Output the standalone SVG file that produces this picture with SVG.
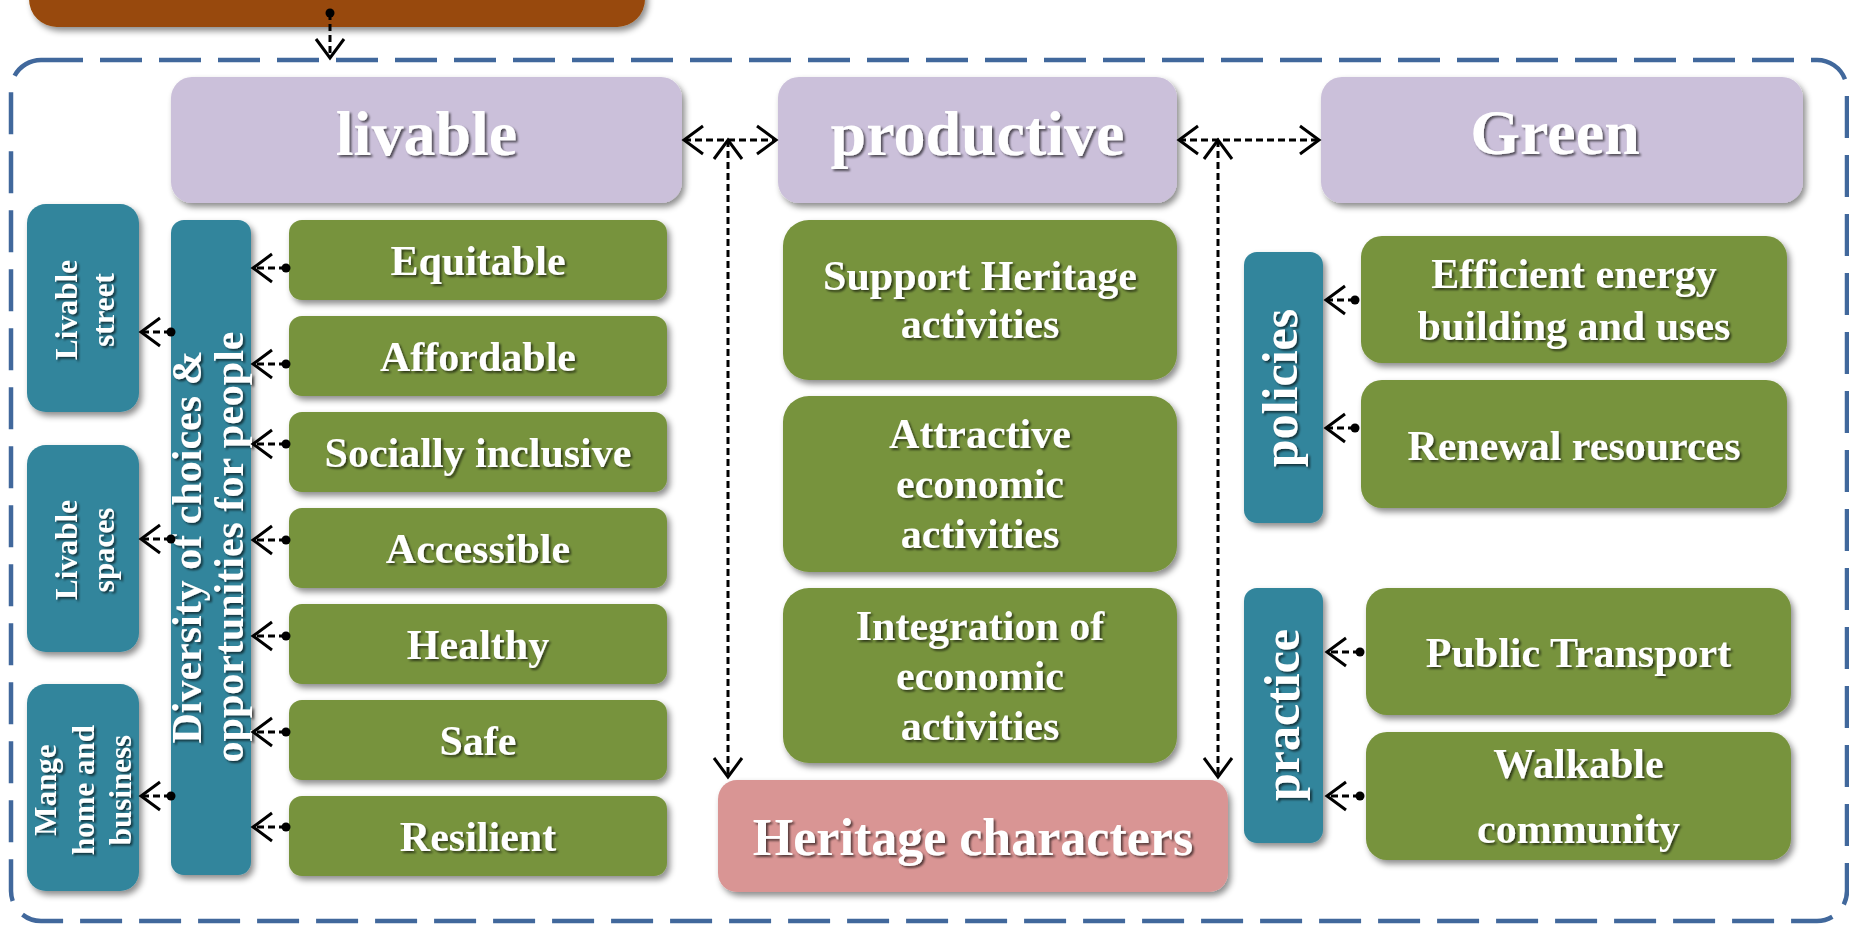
<svg xmlns="http://www.w3.org/2000/svg" width="1849" height="925" viewBox="0 0 1849 925">
<defs>
<style>
.t{font-family:"Liberation Serif","Times New Roman",serif;font-weight:bold;fill:#fff;text-anchor:middle}
.f64{font-size:64px}
.f42{font-size:42px}
.f52{font-size:52px}
.f50{font-size:50px}
.f31{font-size:31px}
.lav{fill:#CBC0DA}
.grn{fill:#77933C}
.teal{fill:#31859C}
.pink{fill:#D99594}
.brown{fill:#984807}
.conn{fill:none;stroke:#000;stroke-width:3;stroke-dasharray:7 4}
</style>
<filter id="bs" x="-10%" y="-10%" width="125%" height="130%">
<feDropShadow dx="3" dy="4" stdDeviation="3" flood-color="#000" flood-opacity="0.45"/>
</filter>
<filter id="ts" x="-10%" y="-20%" width="125%" height="150%">
<feDropShadow dx="2" dy="2" stdDeviation="1" flood-color="#000" flood-opacity="0.6"/>
</filter>
<marker id="ah" markerUnits="userSpaceOnUse" viewBox="-25 -20 30 40" markerWidth="30" markerHeight="40" refX="0" refY="0" orient="auto-start-reverse" overflow="visible">
<path d="M-19,-14 L0,0 L-19,14" fill="none" stroke="#000" stroke-width="3" stroke-dasharray="none"/>
</marker>
<marker id="dot" markerUnits="userSpaceOnUse" viewBox="-6 -6 12 12" markerWidth="12" markerHeight="12" refX="0" refY="0" overflow="visible">
<circle r="4.5" fill="#000"/>
</marker>
</defs>

<rect x="0" y="0" width="1849" height="925" fill="#fff"/>

<g id="frame">
<rect x="11" y="60" width="1836" height="861" rx="30" fill="none" stroke="#41689C" stroke-width="4.5" stroke-dasharray="42 17"/>
</g>

<g id="node-top">
<rect class="brown" x="29" y="-140" width="616" height="167" rx="28" filter="url(#bs)"/>
</g>

<g id="node-livable">
<rect class="lav" x="171" y="77" width="511" height="126" rx="21" filter="url(#bs)"/>
<text class="t f64" x="426.5" y="155" filter="url(#ts)">livable</text>
</g>
<g id="node-productive">
<rect class="lav" x="778" y="77" width="399" height="126" rx="21" filter="url(#bs)"/>
<text class="t f64" x="977.5" y="155" filter="url(#ts)">productive</text>
</g>
<g id="node-green">
<rect class="lav" x="1321" y="77" width="482" height="126" rx="21" filter="url(#bs)"/>
<text class="t f64" x="1555" y="154" filter="url(#ts)">Green</text>
</g>

<g id="node-livable-street">
<rect class="teal" x="27" y="204" width="112" height="208" rx="19" filter="url(#bs)"/>
<g filter="url(#ts)"><text class="t f31" transform="translate(0,310) rotate(-90)"><tspan x="0" y="77">Livable</tspan><tspan x="0" y="114">street</tspan></text></g>
</g>
<g id="node-livable-spaces">
<rect class="teal" x="27" y="445" width="112" height="207" rx="19" filter="url(#bs)"/>
<g filter="url(#ts)"><text class="t f31" transform="translate(0,550) rotate(-90)"><tspan x="0" y="77">Livable</tspan><tspan x="0" y="114">spaces</tspan></text></g>
</g>
<g id="node-mange">
<rect class="teal" x="27" y="684" width="112" height="207" rx="19" filter="url(#bs)"/>
<g filter="url(#ts)"><text class="t f31" transform="translate(0,790) rotate(-90)"><tspan x="0" y="56">Mange</tspan><tspan x="0" y="94">home and</tspan><tspan x="0" y="131">business</tspan></text></g>
</g>

<g id="node-diversity">
<rect class="teal" x="171" y="220" width="80" height="655" rx="13" filter="url(#bs)"/>
<g filter="url(#ts)"><text class="t f42" transform="translate(0,547) rotate(-90)"><tspan x="0" y="201">Diversity of choices &amp;</tspan><tspan x="0" y="243">opportunities for people</tspan></text></g>
</g>

<g id="node-equitable">
<rect class="grn" x="289" y="220" width="378" height="80" rx="13" filter="url(#bs)"/>
<text class="t f42" x="478" y="275" filter="url(#ts)">Equitable</text>
</g>
<g id="node-affordable">
<rect class="grn" x="289" y="316" width="378" height="80" rx="13" filter="url(#bs)"/>
<text class="t f42" x="478" y="371" filter="url(#ts)">Affordable</text>
</g>
<g id="node-socially">
<rect class="grn" x="289" y="412" width="378" height="80" rx="13" filter="url(#bs)"/>
<text class="t f42" x="478" y="467" filter="url(#ts)">Socially inclusive</text>
</g>
<g id="node-accessible">
<rect class="grn" x="289" y="508" width="378" height="80" rx="13" filter="url(#bs)"/>
<text class="t f42" x="478" y="563" filter="url(#ts)">Accessible</text>
</g>
<g id="node-healthy">
<rect class="grn" x="289" y="604" width="378" height="80" rx="13" filter="url(#bs)"/>
<text class="t f42" x="478" y="659" filter="url(#ts)">Healthy</text>
</g>
<g id="node-safe">
<rect class="grn" x="289" y="700" width="378" height="80" rx="13" filter="url(#bs)"/>
<text class="t f42" x="478" y="755" filter="url(#ts)">Safe</text>
</g>
<g id="node-resilient">
<rect class="grn" x="289" y="796" width="378" height="80" rx="13" filter="url(#bs)"/>
<text class="t f42" x="478" y="851" filter="url(#ts)">Resilient</text>
</g>

<g id="node-support">
<rect class="grn" x="783" y="220" width="394" height="160" rx="26" filter="url(#bs)"/>
<text class="t f42" filter="url(#ts)"><tspan x="980" y="290">Support Heritage</tspan><tspan x="980" y="338">activities</tspan></text>
</g>
<g id="node-attractive">
<rect class="grn" x="783" y="396" width="394" height="176" rx="26" filter="url(#bs)"/>
<text class="t f42" filter="url(#ts)"><tspan x="980" y="448">Attractive</tspan><tspan x="980" y="498">economic</tspan><tspan x="980" y="548">activities</tspan></text>
</g>
<g id="node-integration">
<rect class="grn" x="783" y="588" width="394" height="175" rx="26" filter="url(#bs)"/>
<text class="t f42" filter="url(#ts)"><tspan x="980" y="640">Integration of</tspan><tspan x="980" y="690">economic</tspan><tspan x="980" y="740">activities</tspan></text>
</g>

<g id="node-heritage">
<rect class="pink" x="718" y="780" width="510" height="112" rx="19" filter="url(#bs)"/>
<text class="t f52" x="973" y="855" filter="url(#ts)">Heritage characters</text>
</g>

<g id="node-policies">
<rect class="teal" x="1244" y="252" width="79" height="271" rx="13" filter="url(#bs)"/>
<g filter="url(#ts)"><text class="t f50" transform="translate(0,388) rotate(-90)" x="0" y="1297">policies</text></g>
</g>
<g id="node-practice">
<rect class="teal" x="1244" y="588" width="79" height="255" rx="13" filter="url(#bs)"/>
<g filter="url(#ts)"><text class="t f50" transform="translate(0,715) rotate(-90)" x="0" y="1299">practice</text></g>
</g>

<g id="node-efficient">
<rect class="grn" x="1361" y="236" width="426" height="127" rx="21" filter="url(#bs)"/>
<text class="t f42" filter="url(#ts)"><tspan x="1574" y="288">Efficient energy</tspan><tspan x="1574" y="340">building and uses</tspan></text>
</g>
<g id="node-renewal">
<rect class="grn" x="1361" y="380" width="426" height="128" rx="21" filter="url(#bs)"/>
<text class="t f42" x="1574" y="460" filter="url(#ts)">Renewal resources</text>
</g>
<g id="node-public">
<rect class="grn" x="1366" y="588" width="425" height="127" rx="21" filter="url(#bs)"/>
<text class="t f42" x="1578.5" y="667" filter="url(#ts)">Public Transport</text>
</g>
<g id="node-walkable">
<rect class="grn" x="1366" y="732" width="425" height="128" rx="21" filter="url(#bs)"/>
<text class="t f42" filter="url(#ts)"><tspan x="1578.5" y="778">Walkable</tspan><tspan x="1578.5" y="843">community</tspan></text>
</g>

<g id="connectors">
<path class="conn" d="M330,13 V58" marker-start="url(#dot)" marker-end="url(#ah)"/>
<path class="conn" d="M684,140 H776" marker-start="url(#ah)" marker-end="url(#ah)"/>
<path class="conn" d="M728,140 V777" marker-start="url(#ah)" marker-end="url(#ah)"/>
<path class="conn" d="M1179,140 H1319" marker-start="url(#ah)" marker-end="url(#ah)"/>
<path class="conn" d="M1218,140 V777" marker-start="url(#ah)" marker-end="url(#ah)"/>
<path class="conn" d="M286,268 H253" marker-start="url(#dot)" marker-end="url(#ah)"/>
<path class="conn" d="M286,364 H253" marker-start="url(#dot)" marker-end="url(#ah)"/>
<path class="conn" d="M286,444 H253" marker-start="url(#dot)" marker-end="url(#ah)"/>
<path class="conn" d="M286,540 H253" marker-start="url(#dot)" marker-end="url(#ah)"/>
<path class="conn" d="M286,636 H253" marker-start="url(#dot)" marker-end="url(#ah)"/>
<path class="conn" d="M286,732 H253" marker-start="url(#dot)" marker-end="url(#ah)"/>
<path class="conn" d="M286,827 H253" marker-start="url(#dot)" marker-end="url(#ah)"/>
<path class="conn" d="M171,332 H141" marker-start="url(#dot)" marker-end="url(#ah)"/>
<path class="conn" d="M171,539 H141" marker-start="url(#dot)" marker-end="url(#ah)"/>
<path class="conn" d="M171,796 H141" marker-start="url(#dot)" marker-end="url(#ah)"/>
<path class="conn" d="M1355,300 H1326" marker-start="url(#dot)" marker-end="url(#ah)"/>
<path class="conn" d="M1355,428 H1326" marker-start="url(#dot)" marker-end="url(#ah)"/>
<path class="conn" d="M1360,652 H1327" marker-start="url(#dot)" marker-end="url(#ah)"/>
<path class="conn" d="M1360,796 H1327" marker-start="url(#dot)" marker-end="url(#ah)"/>
</g>
</svg>
